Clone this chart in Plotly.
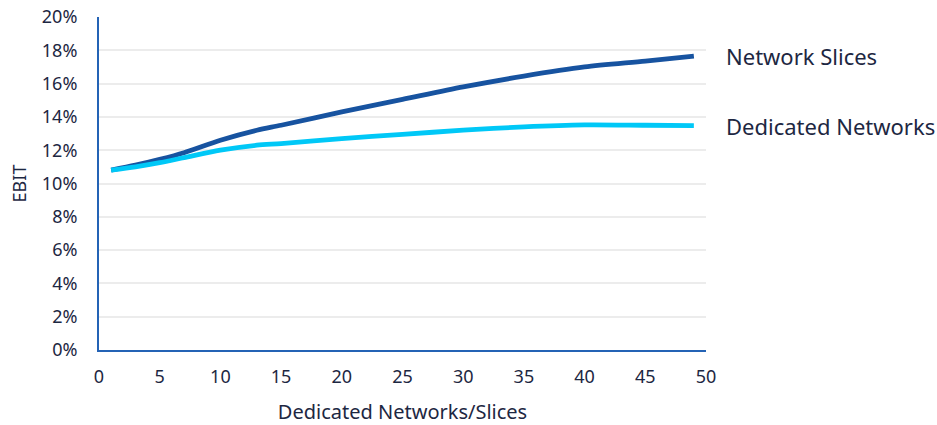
import plotly.graph_objects as go

x_vals = [1, 3, 5, 7, 10, 13, 15, 20, 25, 30, 35, 40, 45, 49]
network_slices = [10.8, 11.1, 11.45, 11.85, 12.6, 13.2, 13.5, 14.3, 15.05, 15.8, 16.45, 17.0, 17.35, 17.65]
dedicated_networks = [10.8, 11.0, 11.25, 11.55, 12.0, 12.3, 12.4, 12.7, 12.95, 13.2, 13.4, 13.52, 13.5, 13.48]
series_names = ["Network Slices", "Dedicated Networks"]
x_ticks = [0, 5, 10, 15, 20, 25, 30, 35, 40, 45, 50]
y_ticks = [0, 2, 4, 6, 8, 10, 12, 14, 16, 18, 20]
y_tick_labels = [f"{v}%" for v in y_ticks]

text_color = "#1d2742"
axis_color = "#2463b5"
colors = ["#1753a0", "#00c8f7"]
font_family = "'Noto Sans', 'Open Sans', sans-serif"

fig = go.Figure()
for name, ys, c in zip(series_names, [network_slices, dedicated_networks], colors):
    fig.add_trace(go.Scatter(
        x=x_vals, y=ys, mode="lines", name=name,
        line=dict(color=c, width=4.8, shape="spline", smoothing=0.8),
        showlegend=False,
    ))
    fig.add_annotation(
        x=x_vals[-1], y=ys[-1], xref="x", yref="y", text=name,
        showarrow=False, xanchor="left", yanchor="middle", xshift=30,
        font=dict(size=22, color=text_color, family=font_family),
    )

fig.update_layout(
    width=937, height=425,
    margin=dict(l=99, r=231, t=17, b=75, autoexpand=False),
    paper_bgcolor="white", plot_bgcolor="white",
    font=dict(family=font_family, color=text_color, size=18),
)
fig.update_xaxes(
    range=[0, 50], tickvals=x_ticks, showgrid=False, zeroline=False,
    showline=True, linecolor=axis_color, linewidth=2, automargin=False,
    ticks="outside", ticklen=9, tickcolor="rgba(0,0,0,0)",
    tickfont=dict(size=18, color=text_color),
    title=dict(text="Dedicated Networks/Slices", font=dict(size=20, color=text_color), standoff=18),
)
fig.update_yaxes(
    range=[0, 20], tickvals=y_ticks, ticktext=y_tick_labels,
    showgrid=True, gridcolor="#ececec", gridwidth=1.5, zeroline=False,
    showline=True, linecolor=axis_color, linewidth=2, automargin=False,
    ticks="outside", ticklen=16, tickcolor="rgba(0,0,0,0)",
    tickfont=dict(size=18, color=text_color),
    title=dict(text="EBIT", font=dict(size=18, color=text_color), standoff=11),
)

fig.write_html("out.html")
